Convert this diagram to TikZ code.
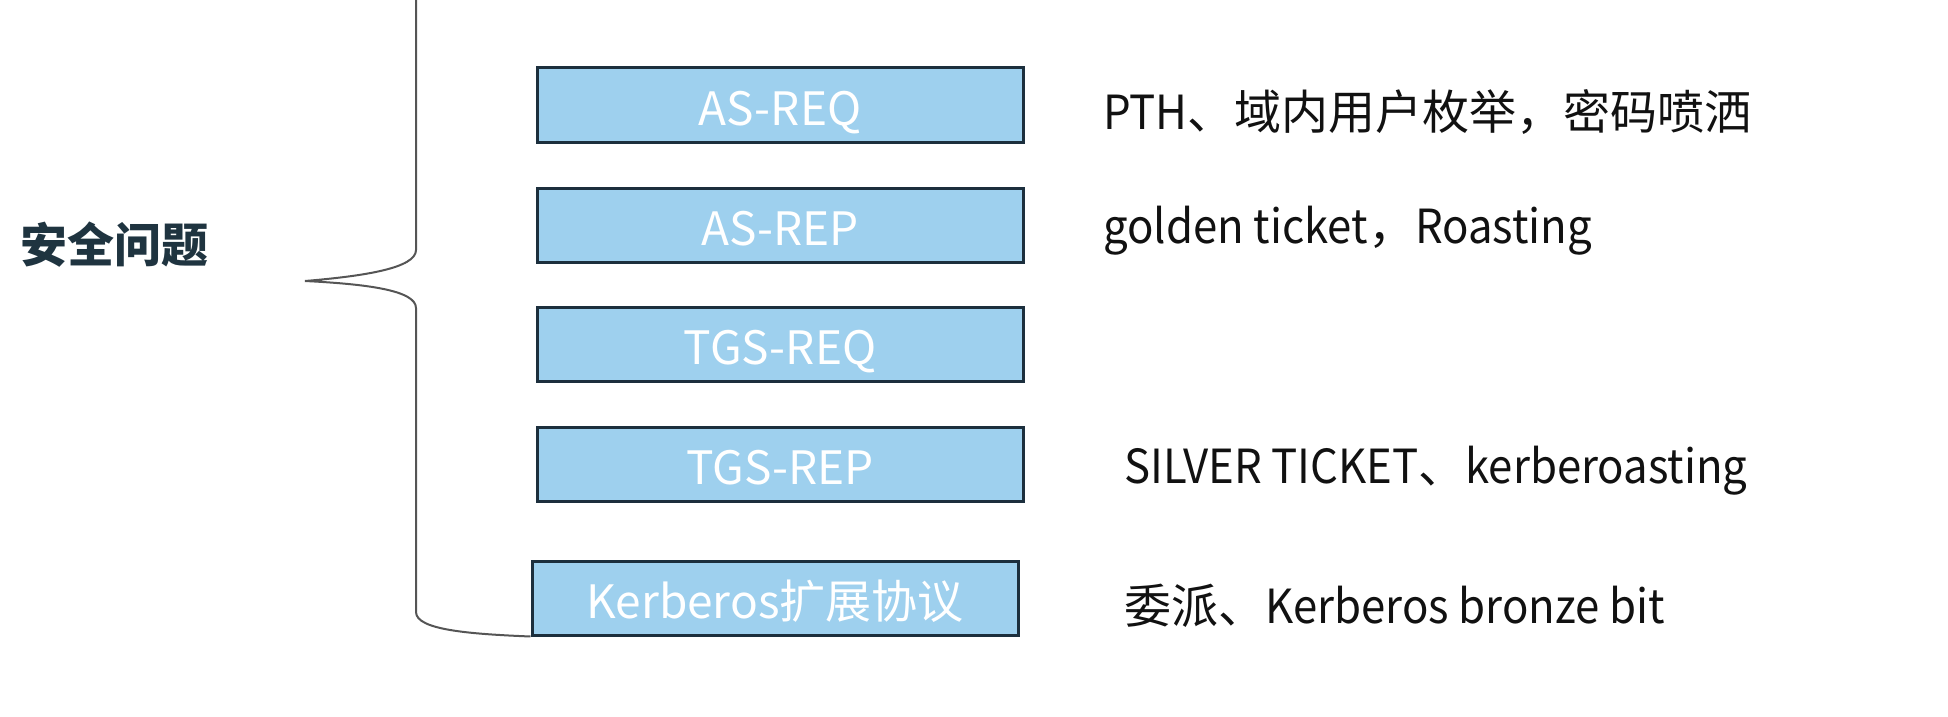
\documentclass[tikz,border=0pt]{standalone}
\usepackage{fontspec}
\setmainfont{Noto Sans CJK SC}
\newfontfamily\cjkfont{Noto Sans CJK SC}
\newfontfamily\latfont[FakeStretch=0.93]{Noto Sans CJK SC}
\newcommand{\lat}[1]{{\latfont #1}}
\definecolor{boxfill}{HTML}{9ED0EE}
\definecolor{boxline}{HTML}{1C2F3D}
\definecolor{titlecol}{HTML}{1F3440}
\definecolor{bracecol}{HTML}{555555}
\definecolor{labelcol}{HTML}{111111}
\begin{document}
\begin{tikzpicture}[x=1pt,y=-1pt,
  stepbox/.style={draw=boxline,line width=3pt,fill=boxfill,minimum width=486pt,minimum height=74pt,inner sep=0pt,
    text height=40pt,text depth=0pt,
    text=white,font=\cjkfont\fontsize{46}{48}\selectfont},
  lbl/.style={anchor=base west,inner sep=0pt,text=labelcol,font=\cjkfont\fontsize{47}{50}\selectfont},
  title/.style={inner sep=0pt,text=titlecol,font=\cjkfont\bfseries\fontsize{47}{50}\selectfont},
  bracestyle/.style={draw=bracecol,line width=2pt}]
\useasboundingbox (0,0) rectangle (1948,717);
\node[title] (t) at (114,245) {安全问题};
\node[stepbox] (asreq) at (780,105) {AS-REQ};
\node[stepbox] (asrep) at (780,225.5) {AS-REP};
\node[stepbox] (tgsreq) at (780,344.5) {TGS-REQ};
\node[stepbox] (tgsrep) at (780,464) {TGS-REP};
\node[stepbox] (kext) at (775,598) {Kerberos扩展协议};
\node[lbl] (l1) at (1103,129) {\lat{PTH}、域内用户枚举，密码喷洒};
\node[lbl] (l2) at (1103,243) {\lat{golden ticket}，\lat{Roasting}};
\node[lbl] (l3) at (1124,483) {\lat{SILVER TICKET}、\lat{kerberoasting}};
\node[lbl] (l4) at (1124,623) {委派、\lat{Kerberos bronze bit}};
\coordinate (btop) at (416,-5);
\coordinate (btip) at (305,281);
\coordinate (bend) at (kext.south west);
\draw[bracestyle] (btop) -- (416,250) .. controls (416,268) and (365,276) .. (btip)
  .. controls (365,284) and (416,290) .. (416,308) -- (416,612)
  .. controls (416,630) and (470,634) .. (bend);
\end{tikzpicture}
\end{document}
